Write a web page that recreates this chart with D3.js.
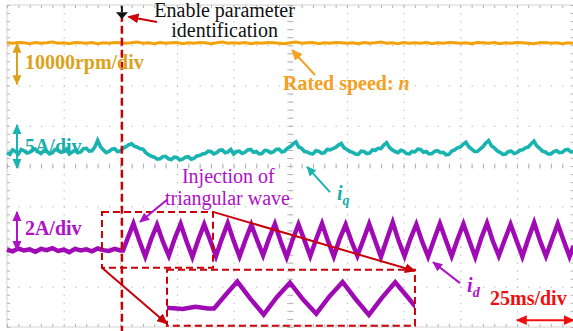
<!DOCTYPE html>
<html>
<head>
<meta charset="utf-8">
<script src="https://cdn.jsdelivr.net/npm/d3@7"></script>
<style>
  body { margin: 0; background: #fff; }
  svg { display: block; font-family: 'Liberation Serif', 'Times New Roman', serif; }
</style>
</head>
<body>
<div id="scope"></div>
<script>
// Data: time in ms (25 ms/div), signal levels in scope divisions (centre = 0)
const speedStep = 2.5;
const iqStep = 1.25;
const triggerTime = 50.7;

const speedDiv = [
  3.06, 3.05, 3.07, 3.06, 3.04, 3.07, 3.05, 3.06, 3.08, 3.05,
  3.06, 3.04, 3.07, 3.06, 3.05, 3.07, 3.04, 3.06, 3.05, 3.07,
  3.06, 3.05, 3.06, 3.08, 3.05, 3.06, 3.04, 3.07, 3.05, 3.06,
  3.07, 3.04, 3.06, 3.05, 3.07, 3.06, 3.04, 3.06, 3.08, 3.05,
  3.06, 3.05, 3.07, 3.04, 3.06, 3.05, 3.07, 3.06, 3.05, 3.04,
  3.06, 3.08, 3.05, 3.06, 3.07, 3.04, 3.06, 3.05, 3.07, 3.06,
  3.05, 3.06, 3.04, 3.07, 3.05, 3.06, 3.08, 3.05, 3.06, 3.04,
  3.07, 3.05, 3.06, 3.05, 3.07, 3.04, 3.06, 3.05, 3.07, 3.06,
  3.05, 3.06, 3.04, 3.07, 3.06, 3.05, 3.07, 3.04, 3.06, 3.05,
  3.07, 3.06, 3.05, 3.04, 3.06, 3.07, 3.05, 3.06, 3.04, 3.06,
  3.05
];

const iqDiv = [
  0.33, 0.29, 0.40, 0.36, 0.30, 0.41, 0.38, 0.32, 0.34, 0.40, 0.42, 0.35, 0.31, 0.38, 0.37, 0.30, 0.33, 0.41, 0.40, 0.34,
  0.36, 0.42, 0.30, 0.35, 0.39, 0.33, 0.35, 0.43, 0.44, 0.37, 0.38, 0.47, 0.64, 0.48, 0.40, 0.33, 0.36, 0.42, 0.43, 0.36,
  0.37, 0.44, 0.48, 0.53, 0.55, 0.49, 0.47, 0.43, 0.42, 0.33, 0.28, 0.24, 0.22, 0.17, 0.18, 0.23, 0.24, 0.18, 0.16, 0.22,
  0.21, 0.15, 0.17, 0.22, 0.23, 0.17, 0.19, 0.25, 0.26, 0.30, 0.31, 0.37, 0.36, 0.30, 0.33, 0.39, 0.40, 0.33, 0.35, 0.41,
  0.30, 0.36, 0.37, 0.31, 0.34, 0.40, 0.41, 0.34, 0.36, 0.30, 0.31, 0.39, 0.38, 0.33, 0.35, 0.41, 0.42, 0.35, 0.37, 0.44,
  0.48, 0.55, 0.60, 0.47, 0.44, 0.36, 0.35, 0.31, 0.30, 0.38, 0.37, 0.32, 0.33, 0.41, 0.40, 0.43, 0.46, 0.52, 0.56, 0.45,
  0.41, 0.36, 0.34, 0.30, 0.29, 0.37, 0.36, 0.31, 0.32, 0.40, 0.39, 0.44, 0.43, 0.52, 0.58, 0.46, 0.40, 0.36, 0.33, 0.39,
  0.37, 0.31, 0.30, 0.36, 0.35, 0.42, 0.41, 0.34, 0.36, 0.30, 0.31, 0.37, 0.38, 0.33, 0.34, 0.28, 0.29, 0.37, 0.40, 0.45,
  0.47, 0.54, 0.59, 0.48, 0.42, 0.36, 0.36, 0.42, 0.48, 0.57, 0.63, 0.50, 0.45, 0.38, 0.34, 0.29, 0.30, 0.36, 0.37, 0.31,
  0.33, 0.39, 0.40, 0.45, 0.47, 0.55, 0.62, 0.50, 0.44, 0.37, 0.35, 0.30, 0.30, 0.36, 0.38, 0.33, 0.34, 0.40, 0.41, 0.35,
  0.36
];

const idTime = [
  0, 2.5, 5, 7.5, 10, 12.5, 15, 17.5, 20, 22.5, 25, 27.5, 30, 32.5, 35, 37.5, 40, 42.5, 45, 47.5, 50,
  51.2, 53.5, 55.8, 58.4, 61.0, 63.6, 66.2, 68.8, 71.4, 74.0, 76.6, 79.2, 81.8, 84.4, 87.0, 89.6,
  92.2, 94.8, 97.4, 100.0, 102.6, 105.2, 107.8, 110.4, 113.0, 115.6, 118.2, 120.8, 123.4, 126.0,
  128.6, 131.2, 133.8, 136.4, 139.0, 141.6, 144.2, 146.8, 149.4, 152.0, 154.6, 157.2, 159.8, 162.4,
  165.0, 167.6, 170.2, 172.8, 175.4, 178.0, 180.6, 183.2, 185.8, 188.4, 191.0, 193.6, 196.2, 198.8,
  201.4, 204.0, 206.6, 209.2, 211.8, 214.4, 217.0, 219.6, 222.2, 224.8, 227.4, 230.0, 232.6, 235.2,
  237.8, 240.4, 243.0, 245.6, 248.2, 250.0
];

const idDiv = [
  -2.08, -2.12, -2.05, -2.10, -2.07, -2.13, -2.06, -2.09, -2.04, -2.11, -2.08, -2.14, -2.06, -2.10, -2.07, -2.12, -2.05, -2.09, -2.11, -2.06, -2.10,
  -2.10, -1.76, -1.43, -1.86, -2.25, -1.82, -1.46, -1.88, -2.23, -1.80, -1.44, -1.87, -2.26, -1.83, -1.45, -1.84,
  -2.24, -1.81, -1.42, -1.86, -2.25, -1.84, -1.46, -1.85, -2.22, -1.80, -1.44, -1.88, -2.27, -1.83,
  -1.45, -1.84, -2.24, -1.82, -1.43, -1.86, -2.25, -1.81, -1.46, -1.87, -2.23, -1.84, -1.44, -1.85,
  -2.26, -1.82, -1.40, -1.86, -2.24, -1.81, -1.45, -1.88, -2.25, -1.83, -1.43, -1.84, -2.24, -1.82,
  -1.44, -1.86, -2.26, -1.80, -1.42, -1.87, -2.23, -1.83, -1.45, -1.85, -2.25, -1.81, -1.41, -1.86,
  -2.24, -1.84, -1.44, -1.85, -2.25, -1.98
];

// Zoom boxes (time range, level range)
const sourceBoxT = [41.9, 90.9];
const sourceBoxV = [-1.14, -2.53];
const insetBoxT = [70.6, 180.0];
const insetBoxV = [-2.58, -3.97];

// Config
const width = 573;
const height = 331;
const frame = {left: 7, right: 573.6, top: 5, bottom: 327};

const colors = {
  speed: '#f2a10f', speedText: '#f4a020', speedScale: '#dca21c',
  iq: '#19b3b0', iqText: '#17aeac',
  id: '#a00ab5', idText: '#b010c8',
  red: '#c8000a', redText: '#ee1010',
  grid: '#b4b4b4'
};

const x = d3.scaleLinear().domain([0, 250]).range([frame.left, frame.right]);
const y = d3.scaleLinear().domain([-4, 4]).range([frame.bottom, frame.top]);

const svg = d3.select('#scope').append('svg')
  .attr('width', width)
  .attr('height', height);

// Arrow markers
const defs = svg.append('defs');
const marker = (id, color, size) => {
  defs.append('marker')
    .attr('id', id)
    .attr('viewBox', '0 -5 10 10')
    .attr('refX', 9)
    .attr('refY', 0)
    .attr('markerUnits', 'userSpaceOnUse')
    .attr('markerWidth', size)
    .attr('markerHeight', size)
    .attr('orient', 'auto-start-reverse')
    .append('path')
    .attr('d', 'M0,-4.5L10,0L0,4.5Z')
    .attr('fill', color);
};
marker('ah-red', colors.red, 11);
marker('ah-red2', colors.redText, 11);
marker('ah-speed', colors.speedText, 11);
marker('ah-speedscale', colors.speedScale, 10);
marker('ah-iq', colors.iq, 10);
marker('ah-id', colors.idText, 10);

// Frame
svg.append('rect')
  .attr('x', frame.left)
  .attr('y', frame.top)
  .attr('width', frame.right - frame.left)
  .attr('height', frame.bottom - frame.top)
  .attr('fill', 'none')
  .attr('stroke', '#d4d4d4');

const styleTicks = (g, dash) => {
  g.select('.domain').remove();
  g.selectAll('.tick line')
    .attr('stroke', colors.grid)
    .attr('stroke-dasharray', dash);
};

// Dotted grid
svg.append('g')
  .attr('transform', `translate(0,${frame.top})`)
  .call(d3.axisBottom(x).tickValues(d3.range(25, 250, 25)).tickSize(frame.bottom - frame.top).tickFormat(''))
  .call(g => styleTicks(g, '1.3,6.75'));

svg.append('g')
  .attr('transform', `translate(${frame.left},0)`)
  .call(d3.axisRight(y).tickValues(d3.range(-3, 4, 1)).tickSize(frame.right - frame.left).tickFormat(''))
  .call(g => styleTicks(g, '1.3,10.03'));

// Minor ticks along edges and centre lines
const minorT = d3.range(0, 250.01, 5);
const minorV = d3.range(-4, 4.01, 0.2);
const edge = (axis, tx, ty, size) => svg.append('g')
  .attr('transform', `translate(${tx},${ty})`)
  .call(axis.tickSize(size).tickFormat(''))
  .call(g => styleTicks(g, null));

edge(d3.axisBottom(x).tickValues(minorT), 0, frame.top, 3);
edge(d3.axisTop(x).tickValues(minorT), 0, frame.bottom, 3);
edge(d3.axisRight(y).tickValues(minorV), frame.left, 0, 3);
edge(d3.axisLeft(y).tickValues(minorV), frame.right, 0, 3);
edge(d3.axisBottom(x).tickValues(minorT), 0, y(0), 2.5);
edge(d3.axisTop(x).tickValues(minorT), 0, y(0), 2.5);
edge(d3.axisRight(y).tickValues(minorV), x(125), 0, 3);
edge(d3.axisLeft(y).tickValues(minorV), x(125), 0, 3);

// Traces
const line = d3.line().x(d => x(d[0])).y(d => y(d[1]));
const sampled = (arr, step) => arr.map((v, i) => [i * step, v]);
const idPoints = idTime.map((t, i) => [t, idDiv[i]]);

svg.append('path')
  .datum(sampled(speedDiv, speedStep))
  .attr('d', line)
  .attr('fill', 'none')
  .attr('stroke', colors.speed)
  .attr('stroke-width', 3);

svg.append('path')
  .datum(sampled(iqDiv, iqStep))
  .attr('d', line)
  .attr('fill', 'none')
  .attr('stroke', colors.iq)
  .attr('stroke-width', 3.6);

svg.append('path')
  .datum(idPoints)
  .attr('d', line)
  .attr('fill', 'none')
  .attr('stroke', colors.id)
  .attr('stroke-width', 4.5);

// Zoomed inset of i_d
const xInset = d3.scaleLinear().domain(sourceBoxT).range([x(insetBoxT[0]), x(insetBoxT[1])]);
const insetShift = insetBoxV[0] - sourceBoxV[0];

defs.append('clipPath')
  .attr('id', 'inset-clip')
  .append('rect')
  .attr('x', x(insetBoxT[0]))
  .attr('y', y(insetBoxV[0]))
  .attr('width', x(insetBoxT[1]) - x(insetBoxT[0]))
  .attr('height', y(insetBoxV[1]) - y(insetBoxV[0]));

svg.append('path')
  .datum(idPoints)
  .attr('clip-path', 'url(#inset-clip)')
  .attr('d', d3.line().x(d => xInset(d[0])).y(d => y(d[1] + insetShift)))
  .attr('fill', 'none')
  .attr('stroke', colors.id)
  .attr('stroke-width', 4.5);

// Zoom boxes and connectors
const box = (bt, bv) => svg.append('rect')
  .attr('x', x(bt[0]))
  .attr('y', y(bv[0]))
  .attr('width', x(bt[1]) - x(bt[0]))
  .attr('height', y(bv[1]) - y(bv[0]))
  .attr('fill', 'none')
  .attr('stroke', colors.red)
  .attr('stroke-width', 2)
  .attr('stroke-dasharray', '7,4');
box(sourceBoxT, sourceBoxV);
box(insetBoxT, insetBoxV);

const arrow = (t0, v0, t1, v1, color, markerId, w, twoWay) => {
  const p = svg.append('line')
    .attr('x1', x(t0)).attr('y1', y(v0))
    .attr('x2', x(t1)).attr('y2', y(v1))
    .attr('stroke', color)
    .attr('stroke-width', w)
    .attr('marker-end', `url(#${markerId})`);
  if (twoWay) p.attr('marker-start', `url(#${markerId})`);
  return p;
};

arrow(sourceBoxT[0], sourceBoxV[1], insetBoxT[0], insetBoxV[1] + 0.05, colors.red, 'ah-red', 2);
arrow(sourceBoxT[1], sourceBoxV[0], insetBoxT[1], insetBoxV[0] - 0.03, colors.red, 'ah-red', 2);

// Trigger line and marker
svg.append('line')
  .attr('x1', x(triggerTime)).attr('x2', x(triggerTime))
  .attr('y1', y(3.78)).attr('y2', height)
  .attr('stroke', colors.red)
  .attr('stroke-width', 2.5)
  .attr('stroke-dasharray', '8,4');

svg.append('path')
  .attr('d', `M${x(triggerTime)},${y(3.98)}V${y(3.82)}`)
  .attr('stroke', '#111')
  .attr('stroke-width', 2);
svg.append('path')
  .attr('d', `M${x(triggerTime) - 6},${y(3.82)}H${x(triggerTime) + 6}L${x(triggerTime)},${y(3.65)}Z`)
  .attr('fill', '#111');

arrow(66.2, 3.58, 53.6, 3.71, colors.red, 'ah-red', 2);

// Scale arrows on the left
arrow(4.4, 3.04, 4.4, 2.03, colors.speedScale, 'ah-speedscale', 2, true);
arrow(4.4, 1.02, 4.4, -0.05, colors.iq, 'ah-iq', 2, true);
arrow(4.4, -1.14, 4.4, -2.09, colors.idText, 'ah-id', 2, true);

// Pointer arrows
arrow(135.9, 2.26, 125.8, 2.88, colors.speedText, 'ah-speed', 2);
arrow(142.5, -0.65, 132.4, -0.02, colors.iq, 'ah-iq', 2);
arrow(70.6, -0.84, 58.7, -1.39, colors.idText, 'ah-id', 2);
arrow(199.9, -2.91, 188.0, -2.39, colors.idText, 'ah-id', 2);
arrow(225, -3.83, 250, -3.83, colors.redText, 'ah-red2', 2, true);

// Text
const label = (t, v, color, opts = {}) => svg.append('text')
  .attr('x', x(t))
  .attr('y', y(v))
  .attr('fill', color)
  .attr('font-size', opts.size || 20)
  .attr('font-weight', opts.bold ? 'bold' : 'normal')
  .attr('text-anchor', opts.anchor || 'start');

label(96.0, 3.70, '#111', {anchor: 'middle'}).text('Enable parameter');
label(96.0, 3.20, '#111', {anchor: 'middle'}).text('identification');

label(7.9, 2.41, colors.speedScale, {bold: true}).text('10000rpm/div');
const rated = label(121.8, 1.89, colors.speedText, {bold: true});
rated.append('tspan').text('Rated speed: ');
rated.append('tspan').attr('font-style', 'italic').text('n');

label(7.9, 0.32, colors.iqText, {bold: true}).text('5A/div');
const iqLab = label(145.6, -0.84, colors.iqText, {bold: true});
iqLab.append('tspan').attr('font-style', 'italic').text('i');
iqLab.append('tspan').attr('font-style', 'italic').attr('font-size', 14).attr('dy', 5).text('q');

label(7.9, -1.71, colors.idText, {bold: true}).text('2A/div');
label(77.2, -0.42, colors.idText).text('Injection of');
label(69.7, -0.97, colors.idText).text('triangular wave');
const idLab = label(203.0, -3.13, colors.idText, {bold: true});
idLab.append('tspan').attr('font-style', 'italic').text('i');
idLab.append('tspan').attr('font-style', 'italic').attr('font-size', 14).attr('dy', 5).text('d');

label(213.1, -3.45, colors.redText, {bold: true}).text('25ms/div');
</script>
</body>
</html>
